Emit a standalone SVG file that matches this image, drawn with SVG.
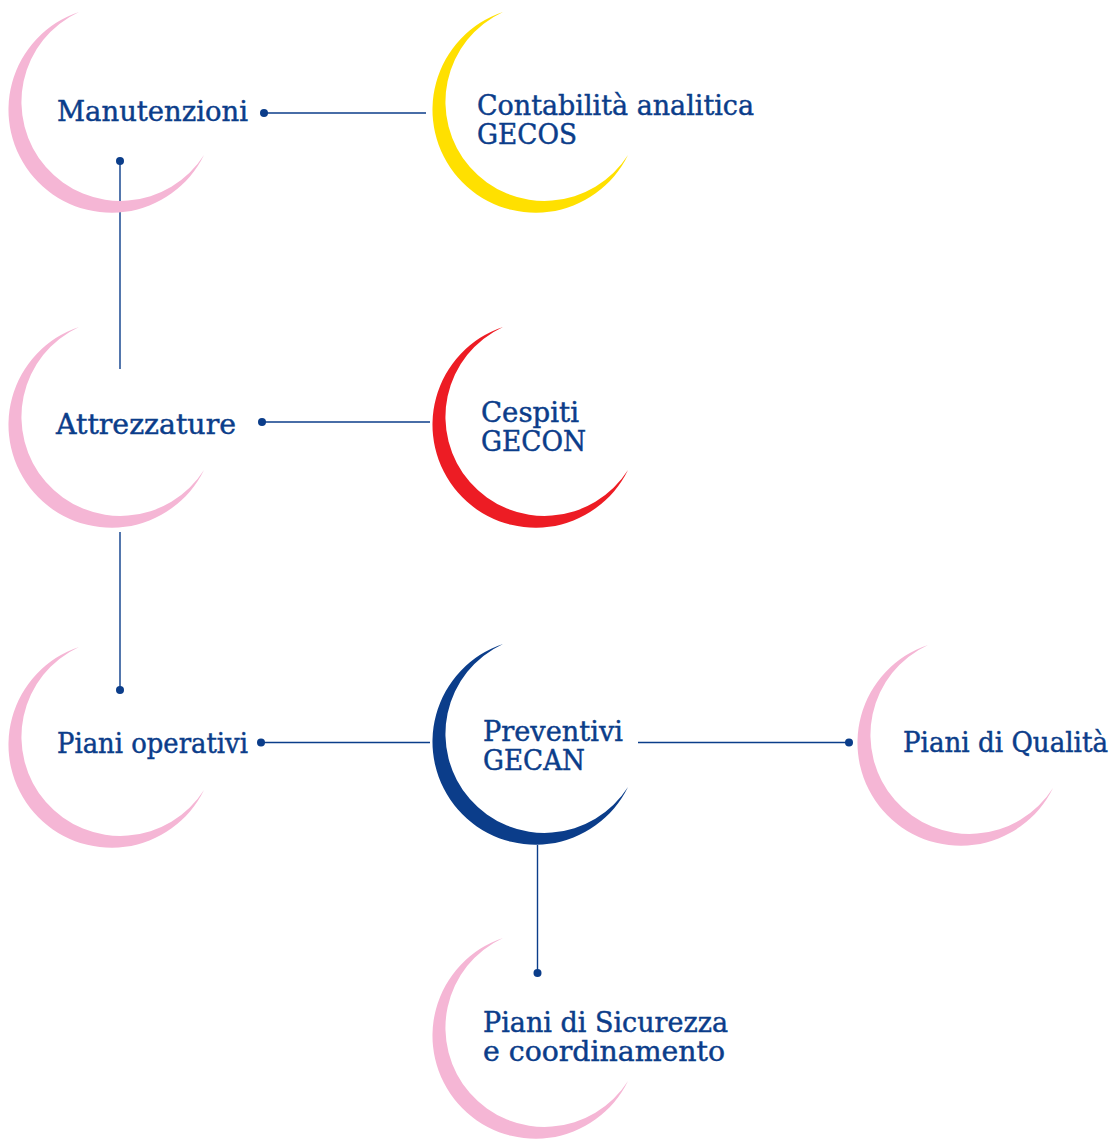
<svg xmlns="http://www.w3.org/2000/svg" xmlns:xlink="http://www.w3.org/1999/xlink" width="1117" height="1139" viewBox="0 0 1117 1139">
<style>
.lbl{font-family:"DejaVu Serif","Liberation Serif",serif;font-size:27px;fill:#0b3d8a;stroke:#0b3d8a;stroke-width:0.45}
.pink{fill:#f5b6d5}
.yellow{fill:#ffe000}
.red{fill:#ed1c24}
.blue{fill:#0b3d8a}
.conn line{stroke:#0b3d8a;stroke-width:1.4}
.conn circle{fill:#0b3d8a}
</style>
<defs>
<path id="crescent" d="M79,12 A103,103 0 1 0 204,155 A99,99 0 1 1 79,12 Z"/>
</defs>
<rect width="1117" height="1139" fill="#ffffff"/>
<g id="connectors" class="conn">
<line x1="264" y1="113" x2="426" y2="113"/><circle cx="264" cy="113" r="4"/>
<line x1="120" y1="161" x2="120" y2="369"/><circle cx="120" cy="161" r="4"/>
<line x1="262" y1="422" x2="430" y2="422"/><circle cx="262" cy="422" r="4"/>
<line x1="120" y1="532" x2="120" y2="690"/><circle cx="120" cy="690" r="4"/>
<line x1="261" y1="742.5" x2="430" y2="742.5"/><circle cx="261" cy="742.5" r="4"/>
<line x1="638" y1="742.5" x2="849" y2="742.5"/><circle cx="849" cy="742.5" r="4"/>
<line x1="537.5" y1="845" x2="537.5" y2="973"/><circle cx="537.5" cy="973" r="4"/>
</g>
<g id="manutenzioni">
<use xlink:href="#crescent" class="pink"/>
<text class="lbl" x="57" y="121" textLength="191" lengthAdjust="spacingAndGlyphs">Manutenzioni</text>
</g>
<g id="contabilita">
<use xlink:href="#crescent" class="yellow" transform="translate(424,0)"/>
<text class="lbl" x="477" y="115" textLength="277" lengthAdjust="spacingAndGlyphs">Contabilità analitica</text>
<text class="lbl" x="477" y="144" textLength="100" lengthAdjust="spacingAndGlyphs">GECOS</text>
</g>
<g id="attrezzature">
<use xlink:href="#crescent" class="pink" transform="translate(0,315)"/>
<text class="lbl" x="56" y="434" textLength="180" lengthAdjust="spacingAndGlyphs">Attrezzature</text>
</g>
<g id="cespiti">
<use xlink:href="#crescent" class="red" transform="translate(424,315)"/>
<text class="lbl" x="481" y="422" textLength="98" lengthAdjust="spacingAndGlyphs">Cespiti</text>
<text class="lbl" x="481" y="451" textLength="105" lengthAdjust="spacingAndGlyphs">GECON</text>
</g>
<g id="piani-operativi">
<use xlink:href="#crescent" class="pink" transform="translate(0,635)"/>
<text class="lbl" x="57" y="753" textLength="191" lengthAdjust="spacingAndGlyphs">Piani operativi</text>
</g>
<g id="preventivi">
<use xlink:href="#crescent" class="blue" transform="translate(424,632)"/>
<text class="lbl" x="483" y="741" textLength="140" lengthAdjust="spacingAndGlyphs">Preventivi</text>
<text class="lbl" x="483" y="770" textLength="102" lengthAdjust="spacingAndGlyphs">GECAN</text>
</g>
<g id="piani-qualita">
<use xlink:href="#crescent" class="pink" transform="translate(849,633)"/>
<text class="lbl" x="903" y="752" textLength="205" lengthAdjust="spacingAndGlyphs">Piani di Qualità</text>
</g>
<g id="piani-sicurezza">
<use xlink:href="#crescent" class="pink" transform="translate(424,926)"/>
<text class="lbl" x="483" y="1032" textLength="245" lengthAdjust="spacingAndGlyphs">Piani di Sicurezza</text>
<text class="lbl" x="483" y="1061" textLength="242" lengthAdjust="spacingAndGlyphs">e coordinamento</text>
</g>
</svg>
